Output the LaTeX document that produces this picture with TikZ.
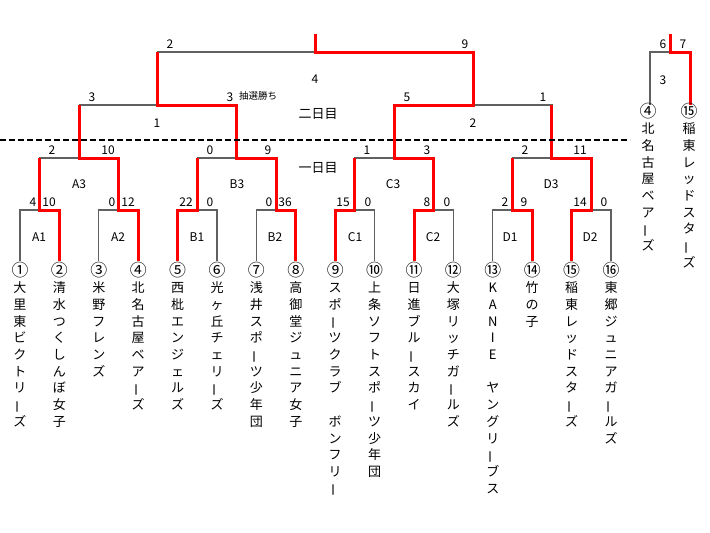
\documentclass[tikz,border=0pt]{standalone}
\usepackage{fontspec}
\usepackage{graphicx}
\usetikzlibrary{calc}
\setmainfont{Noto Sans CJK JP}
\makeatletter
\def\vt@stop{\vt@stop}
\newcommand\vt[2]{\vtop{\baselineskip=16.7pt\lineskiplimit=-100pt\lineskip=0pt
  \hbox to 16pt{\hss\raisebox{-0.6pt}{\scalebox{1.3}{#1}}\hss}\vt@loop#2\vt@stop}}
\def\vt@loop#1{\ifx#1\vt@stop\else\vt@ch{#1}\expandafter\vt@loop\fi}
\def\vt@bar{ー}
\def\vt@ch#1{\hbox to 16pt{\hss\def\vt@cur{#1}\ifx\vt@cur\vt@bar\rotatebox[origin=c]{90}{ー}\else#1\fi\hss}}
\makeatother
\definecolor{lineg}{RGB}{96,96,96}
\tikzset{
  grayline/.style={draw=lineg,line width=1.2pt},
  redline/.style={draw=red,line width=3pt,line join=miter},
  score/.style={anchor=base,inner sep=0pt,font=\fontsize{12pt}{14pt}\selectfont},
  mlabel/.style={anchor=center,inner sep=0pt,font=\fontsize{12pt}{14pt}\selectfont},
  daylabel/.style={anchor=center,inner sep=0pt,font=\fontsize{13pt}{15pt}\selectfont},
  team/.style={anchor=base,inner sep=0pt,font=\fontsize{13pt}{15pt}\selectfont},
}
\begin{document}
\begin{tikzpicture}[x=1pt,y=-1pt]
\useasboundingbox (0,0) rectangle (710,533);
\fill[white] (0,0) rectangle (710,533);
% leaves
\foreach \i in {1,...,16} \coordinate (t\i) at ({20+(\i-1)*39.4},261);
\coordinate (A1) at (39.7,210);  \coordinate (A2) at (118.5,210);
\coordinate (B1) at (197.3,210); \coordinate (B2) at (276.1,210);
\coordinate (C1) at (354.9,210); \coordinate (C2) at (433.7,210);
\coordinate (D1) at (512.5,210); \coordinate (D2) at (591.3,210);
\coordinate (A3) at (79.1,158);  \coordinate (B3) at (236.7,158);
\coordinate (C3) at (394.3,158); \coordinate (D3) at (551.9,158);
\coordinate (M1) at (157.9,105); \coordinate (M2) at (473.1,105);
\coordinate (M4) at (315.5,52);  \coordinate (top) at (315.5,34);
\coordinate (s4) at (650,105);   \coordinate (s15) at (690,105);
\coordinate (M3) at (670,52);    \coordinate (top3) at (670,34);
\coordinate (dl) at (0,140);     \coordinate (dr) at (630,140);
% gray bracket lines
\foreach \a/\b/\m in {t1/t2/A1,t3/t4/A2,t5/t6/B1,t7/t8/B2,t9/t10/C1,t11/t12/C2,t13/t14/D1,t15/t16/D2,
  A1/A2/A3,B1/B2/B3,C1/C2/C3,D1/D2/D3,A3/B3/M1,C3/D3/M2,M1/M2/M4,s4/s15/M3}
  \draw[grayline] (\a) |- (\m) -| (\b);
% red winner lines
\foreach \w/\m/\p in {t2/A1/A3,t4/A2/A3,t5/B1/B3,t8/B2/B3,t9/C1/C3,t11/C2/C3,t14/D1/D3,t15/D2/D3,
  A2/A3/M1,B2/B3/M1,C2/C3/M2,D2/D3/M2,B3/M1/M4,C3/M2/M4,M2/M4/top,s15/M3/top3}
  \draw[redline] (\w) |- (\m) -- (\m |- \p);
% dashed day divider
\draw[line width=2pt,dash pattern=on 6pt off 3pt] (dl) -- (dr);
% scores
\foreach \x/\y/\t [count=\i] in {170/52/2,465/52/9,663/52/6,683/52/7,
  92/105/3,230/105/3,407/105/5,543/105/1,
  52/158/2,108/158/10,210/158/0,268/158/9,367/158/1,427/158/3,525/158/2,580/158/11,
  33/210/4,49/210/10,112/210/0,128/210/12,186/210/22,210/210/0,269/210/0,285/210/36,
  343/210/15,368/210/0,427/210/8,447/210/0,505/210/2,524/210/9,580/210/14,604/210/0}
  \node[score] (sc\i) at (\x,\y-3.6) {\t};
\node[anchor=center,inner sep=0pt,font=\fontsize{9.5pt}{11pt}\selectfont] (lot) at (258,96) {抽選勝ち};
% match labels
\foreach \x/\y/\t [count=\i] in {315/79/4,157/123/1,473/123/2,663/80/3,
  79/184/A3,237/184/B3,393/184/C3,551/184/D3,
  39/237/A1,118/237/A2,197/237/B1,275/237/B2,355/237/C1,433/237/C2,510/237/D1,590/237/D2}
  \node[mlabel] (ml\i) at (\x,\y) {\t};
\node[daylabel] (day2) at (318,114) {二日目};
\node[daylabel] (day1) at (318,168) {一日目};
% team names
\node[team] (n1) at ($(t1)+(0,15)$) {\vt{①}{大里東ビクトリーズ}};
\node[team] (n2) at ($(t2)+(0,15)$) {\vt{②}{清水つくしんぼ女子}};
\node[team] (n3) at ($(t3)+(0,15)$) {\vt{③}{米野フレンズ}};
\node[team] (n4) at ($(t4)+(0,15)$) {\vt{④}{北名古屋ベアーズ}};
\node[team] (n5) at ($(t5)+(0,15)$) {\vt{⑤}{西枇エンジェルズ}};
\node[team] (n6) at ($(t6)+(0,15)$) {\vt{⑥}{光ヶ丘チェリーズ}};
\node[team] (n7) at ($(t7)+(0,15)$) {\vt{⑦}{浅井スポーツ少年団}};
\node[team] (n8) at ($(t8)+(0,15)$) {\vt{⑧}{高御堂ジュニア女子}};
\node[team] (n9) at ($(t9)+(0,15)$) {\vt{⑨}{スポーツクラブ　ボンフリー}};
\node[team] (n10) at ($(t10)+(0,15)$) {\vt{⑩}{上条ソフトスポーツ少年団}};
\node[team] (n11) at ($(t11)+(0,15)$) {\vt{⑪}{日進ブルースカイ}};
\node[team] (n12) at ($(t12)+(0,15)$) {\vt{⑫}{大塚リッチガールズ}};
\node[team] (n13) at ($(t13)+(0,15)$) {\vt{⑬}{KANIE　ヤングリーブス}};
\node[team] (n14) at ($(t14)+(0,15)$) {\vt{⑭}{竹の子}};
\node[team] (n15) at ($(t15)+(0,15)$) {\vt{⑮}{稲東レッドスターズ}};
\node[team] (n16) at ($(t16)+(0,15)$) {\vt{⑯}{東郷ジュニアガールズ}};
\node[team] (r4) at ($(s4)+(-2,12)$) {\vt{④}{北名古屋ベアーズ}};
\node[team] (r15) at ($(s15)+(-1,12)$) {\vt{⑮}{稲東レッドスターズ}};
\end{tikzpicture}
\end{document}
